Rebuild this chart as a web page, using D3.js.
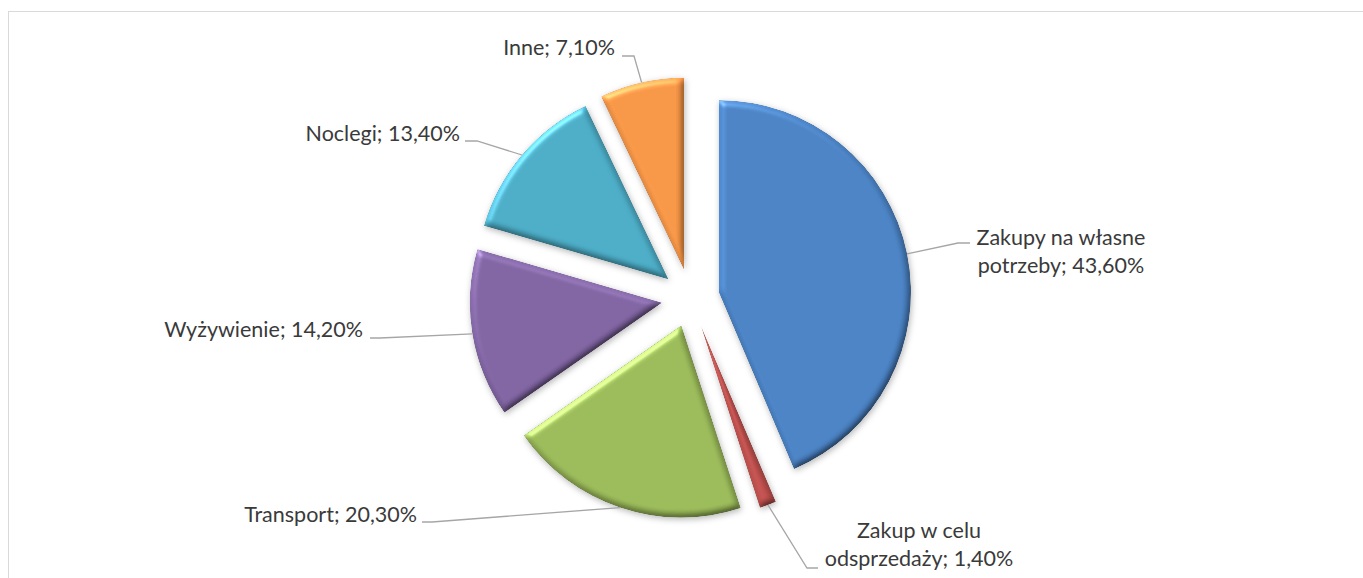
<!DOCTYPE html>
<html>
<head>
<meta charset="utf-8">
<script src="https://cdn.jsdelivr.net/npm/d3@7"></script>
<style>
  html, body { margin: 0; padding: 0; background: #fff; }
  #chart { width: 1363px; height: 578px; overflow: hidden; }
  .lbl { font-family: Lato, "Open Sans", sans-serif; font-size: 21.5px; fill: #3a3a3a; }
</style>
</head>
<body>
<div id="chart"></div>
<script>
// struktura wydatków
const categories = ['Zakupy na własne potrzeby', 'Zakup w celu odsprzedaży', 'Transport', 'Wyżywienie', 'Noclegi', 'Inne'];
const values = [43.6, 1.4, 20.3, 14.2, 13.4, 7.1];
const colors = ['#4A82C4', '#C0504D', '#9BBB59', '#8064A2', '#4BACC6', '#F79646'];

// label placement (text anchor, baseline, leader elbow, leader end), words on first line
const labelLayout = [
  { x: 1061, y: 245, anchor: 'middle', elbow: [958, 243], end: [970, 243], wrap: 3 },
  { x: 919, y: 538, anchor: 'middle', elbow: [807, 568], end: [818, 568], wrap: 3 },
  { x: 417, y: 522, anchor: 'end', elbow: [432, 522], end: [422, 522] },
  { x: 363, y: 337, anchor: 'end', elbow: [380, 338], end: [370, 338] },
  { x: 460, y: 141, anchor: 'end', elbow: [477, 141], end: [465, 141] },
  { x: 615, y: 55, anchor: 'end', elbow: [634, 56], end: [622, 56] }
];

const W = 1363, H = 578;
const cx = 690.5, cy = 298, radius = 192, explode = 29;
const lineH = 28;

const svg = d3.select('#chart').append('svg')
  .attr('width', W).attr('height', H);

// bevel + shadow
const defs = svg.append('defs');
const f = defs.append('filter').attr('id', 'bevel')
  .attr('x', '-15%').attr('y', '-15%').attr('width', '130%').attr('height', '130%')
  .attr('color-interpolation-filters', 'sRGB');
f.append('feGaussianBlur').attr('in', 'SourceAlpha').attr('stdDeviation', 3).attr('result', 'blur');
f.append('feDiffuseLighting').attr('in', 'blur').attr('surfaceScale', 2.2)
  .attr('diffuseConstant', 1).attr('lighting-color', '#fff').attr('result', 'diff')
  .append('feDistantLight').attr('azimuth', 235).attr('elevation', 55);
f.append('feComposite').attr('in', 'SourceGraphic').attr('in2', 'diff')
  .attr('operator', 'arithmetic').attr('k1', 1.2).attr('k2', 0).attr('k3', 0).attr('k4', 0)
  .attr('result', 'lit');
f.append('feSpecularLighting').attr('in', 'blur').attr('surfaceScale', 2.5)
  .attr('specularConstant', 0.5).attr('specularExponent', 40).attr('lighting-color', '#fff')
  .attr('result', 'spec')
  .append('feDistantLight').attr('azimuth', 235).attr('elevation', 50);
f.append('feComposite').attr('in', 'spec').attr('in2', 'SourceAlpha').attr('operator', 'in').attr('result', 'specIn');
f.append('feComposite').attr('in', 'lit').attr('in2', 'specIn')
  .attr('operator', 'arithmetic').attr('k1', 0).attr('k2', 1).attr('k3', 0.45).attr('k4', 0)
  .attr('result', 'lit2');
f.append('feComposite').attr('in', 'lit2').attr('in2', 'SourceAlpha').attr('operator', 'in').attr('result', 'body');
f.append('feGaussianBlur').attr('in', 'SourceAlpha').attr('stdDeviation', 3).attr('result', 'sblur');
f.append('feOffset').attr('in', 'sblur').attr('dx', 1).attr('dy', 2).attr('result', 'soff');
f.append('feFlood').attr('flood-color', '#000').attr('flood-opacity', 0.28);
f.append('feComposite').attr('in2', 'soff').attr('operator', 'in').attr('result', 'shadow');
const m = f.append('feMerge');
m.append('feMergeNode').attr('in', 'shadow');
m.append('feMergeNode').attr('in', 'body');

// chart area border
svg.append('rect')
  .attr('x', 8.5).attr('y', 11.5)
  .attr('width', W + 20).attr('height', H + 20)
  .attr('fill', 'none').attr('stroke', '#d9d9d9').attr('stroke-width', 1);

const data = categories.map((c, i) => ({ cat: c, value: values[i], color: colors[i] }));

const pie = d3.pie().sort(null).value(d => d.value);
const arcs = pie(data);
const arc = d3.arc().innerRadius(0).outerRadius(radius);

const g = svg.append('g').attr('transform', `translate(${cx},${cy})`);

const fmt = v => d3.format('.2f')(v).replace('.', ',') + '%';

arcs.forEach(a => {
  const mid = (a.startAngle + a.endAngle) / 2;
  const ox = explode * Math.sin(mid), oy = -explode * Math.cos(mid);
  g.append('path')
    .attr('transform', `translate(${ox},${oy})`)
    .attr('d', arc(a))
    .attr('fill', a.data.color)
    .attr('filter', 'url(#bevel)');
});

// labels + leader lines
const lg = svg.append('g');
arcs.forEach((a, i) => {
  const L = labelLayout[i];
  const mid = (a.startAngle + a.endAngle) / 2;
  const rr = radius + explode;
  const px = cx + rr * Math.sin(mid), py = cy - rr * Math.cos(mid);

  lg.append('path')
    .attr('d', d3.line()([[px, py], L.elbow, L.end]))
    .attr('fill', 'none').attr('stroke', '#a6a6a6').attr('stroke-width', 1.3);

  const full = a.data.cat + '; ' + fmt(a.data.value);
  let lines = [full];
  if (L.wrap) {
    const words = full.split(' ');
    lines = [words.slice(0, L.wrap).join(' '), words.slice(L.wrap).join(' ')];
  }
  const t = lg.append('text').attr('class', 'lbl').attr('text-anchor', L.anchor);
  lines.forEach((ln, k) => {
    t.append('tspan').attr('x', L.x).attr('y', L.y + k * lineH).text(ln);
  });
});
</script>
</body>
</html>
